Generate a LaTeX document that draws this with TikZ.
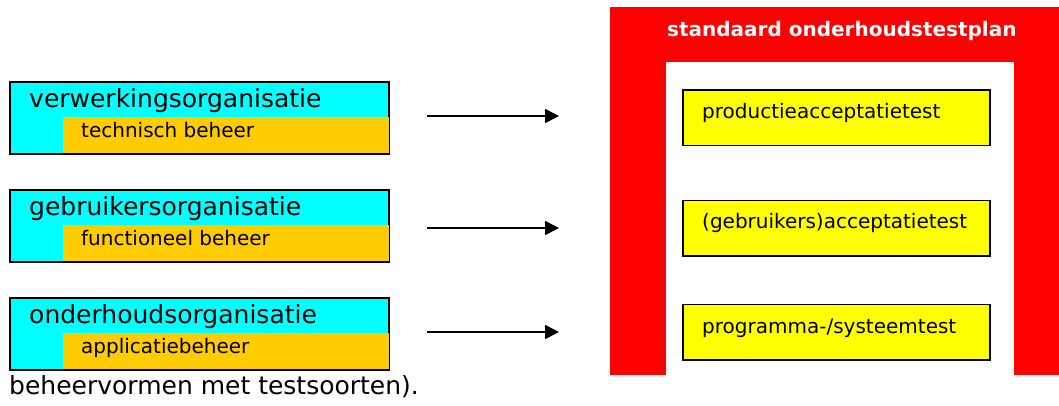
\documentclass[tikz,border=0pt]{standalone}
\usepackage{fontspec}
\setmainfont{DejaVu Sans}
\usetikzlibrary{arrows.meta}
\definecolor{orgcyan}{RGB}{0,255,255}
\definecolor{roleorange}{RGB}{255,204,0}
\definecolor{planred}{RGB}{255,0,0}
\definecolor{testyellow}{RGB}{255,255,0}
\begin{document}
\begin{tikzpicture}[x=1pt,y=-1pt,
  orgbox/.style={draw=black,line width=1.5pt,fill=orgcyan,inner sep=0pt,
    minimum width=379pt,minimum height=72pt,anchor=north west},
  rolebox/.style={fill=roleorange,inner sep=0pt,
    minimum width=326pt,minimum height=36pt,anchor=north west},
  orgtext/.style={font=\fontsize{25}{30}\selectfont,anchor=base west,inner sep=0pt},
  roletext/.style={font=\fontsize{20}{24}\selectfont,anchor=base west,inner sep=0pt},
  testbox/.style={draw=black,line width=1.5pt,fill=testyellow,inner sep=0pt,
    minimum width=307pt,minimum height=55.5pt,anchor=north west},
  testtext/.style={font=\fontsize{20}{24}\selectfont,anchor=base west,inner sep=0pt},
  link/.style={-{Triangle[length=14pt,width=14pt]},line width=1.5pt},
]
\useasboundingbox (0,0) rectangle (1059,405);

% organisations with their kind of management
\node[orgbox]  (org1) at (9,81) {};
\node[rolebox] (role1) at (63,117) {};
\node[orgtext] (org1t) at (29,107) {verwerkingsorganisatie};
\node[roletext] (role1t) at (81,137) {technisch beheer};

\node[orgbox]  (org2) at (9,189) {};
\node[rolebox] (role2) at (63,225) {};
\node[orgtext] (org2t) at (29,215) {gebruikersorganisatie};
\node[roletext] (role2t) at (81,245) {functioneel beheer};

\node[orgbox]  (org3) at (9,297) {};
\node[rolebox] (role3) at (63,333) {};
\node[orgtext] (org3t) at (29,323) {onderhoudsorganisatie};
\node[roletext] (role3t) at (81,353) {applicatiebeheer};

% standard maintenance test plan frame
\node[fill=planred,inner sep=0pt,minimum width=449pt,minimum height=368pt,
  anchor=north west] (plan) at (610,7) {};
\node[fill=white,inner sep=0pt,minimum width=348pt,minimum height=314pt,
  anchor=north west] (planin) at (666,62) {};
\node[font=\bfseries\fontsize{20}{24}\selectfont,text=white,anchor=base west,
  inner sep=0pt] (plant) at (667,36) {standaard onderhoudstestplan};

\node[testbox] (test1) at (682,89) {};
\node[testtext] (test1t) at (702,118) {productieacceptatietest};
\node[testbox] (test2) at (682,199.5) {};
\node[testtext] (test2t) at (702,228) {(gebruikers)acceptatietest};
\node[testbox] (test3) at (682,303.5) {};
\node[testtext] (test3t) at (702,333) {programma-/systeemtest};

% arrows
\coordinate (s1) at (427,116);  \coordinate (e1) at (559,116);
\coordinate (s2) at (427,228);  \coordinate (e2) at (559,228);
\coordinate (s3) at (427,332);  \coordinate (e3) at (559,332);
\draw[link] (s1) -- (e1);
\draw[link] (s2) -- (e2);
\draw[link] (s3) -- (e3);

% caption fragment
\node[font=\fontsize{25}{30}\selectfont,anchor=base west,inner sep=0pt]
  (caption) at (9,394) {beheervormen met testsoorten).};
\end{tikzpicture}
\end{document}
